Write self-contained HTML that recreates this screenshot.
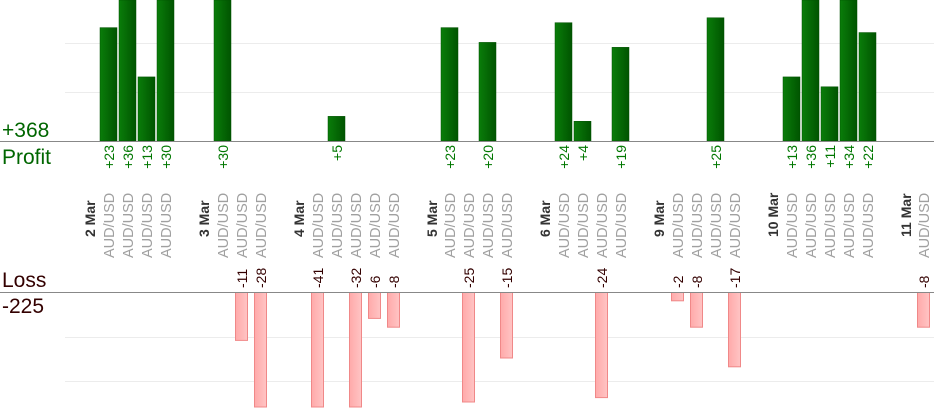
<!DOCTYPE html>
<html><head><meta charset="utf-8"><style>
html,body{margin:0;padding:0;background:#fff;width:934px;height:420px;overflow:hidden}
svg{display:block;font-family:"Liberation Sans",sans-serif}
</style></head><body>
<svg width="934" height="420" viewBox="0 0 934 420" xmlns="http://www.w3.org/2000/svg">
<defs>
<linearGradient id="g" x1="0" x2="1"><stop offset="0" stop-color="#0a7d0a"/><stop offset="1" stop-color="#005400"/></linearGradient>
<linearGradient id="r" x1="0" x2="1"><stop offset="0" stop-color="#ffaaaa"/><stop offset="1" stop-color="#ffc4c4"/></linearGradient>
</defs>
<line x1="65" y1="43.5" x2="934" y2="43.5" stroke="#ececec"/>
<line x1="65" y1="92.5" x2="934" y2="92.5" stroke="#ececec"/>
<line x1="65" y1="337.5" x2="934" y2="337.5" stroke="#ececec"/>
<line x1="65" y1="381.5" x2="934" y2="381.5" stroke="#ececec"/>
<g id="bars"></g>
<line x1="0" y1="141.5" x2="934" y2="141.5" stroke="#888"/>
<line x1="0" y1="292.5" x2="934" y2="292.5" stroke="#888"/>
<text x="2" y="137" font-size="21" fill="#006600">+368</text>
<text x="2" y="164" font-size="21" fill="#006600">Profit</text>
<text x="2" y="287" font-size="21" fill="#330000">Loss</text>
<text x="2" y="313" font-size="21" fill="#330000">-225</text>
<g id="lbl"></g>
</svg>
<script>
var data=[[89,'2 Mar'],[108,23],[127,36],[146,13],[165,30],[203,'3 Mar'],[222,30],[241,-11],[260,-28],[298,'4 Mar'],[317,-41],[336,5],[355,-32],[374,-6],[393,-8],[431,'5 Mar'],[449,23],[468,-25],[487,20],[506,-15],[544,'6 Mar'],[563,24],[582,4],[601,-24],[620,19],[658,'9 Mar'],[677,-2],[696,-8],[715,25],[734,-17],[772,'10 Mar'],[791,13],[810,36],[829,11],[848,34],[867,22],[905,'11 Mar'],[923,-8]];
var ns="http://www.w3.org/2000/svg",B=document.getElementById('bars'),L=document.getElementById('lbl');
function el(p,t,a,tx){var e=document.createElementNS(ns,t);for(var k in a)e.setAttribute(k,a[k]);if(tx!=null)e.textContent=tx;p.appendChild(e);return e;}
function vt(x,y,s,anchor,fill,size,bold){el(L,'text',{x:x,y:y,'font-size':size,fill:fill,'text-anchor':anchor,'font-weight':bold?'bold':'normal',transform:'rotate(-90 '+x+' '+y+')'},s);}
data.forEach(function(d){var x=d[0],v=d[1];
if(typeof v=='string'){vt(x+6,237,v,'start','#333',14,true);return;}
vt(x+6,258,'AUD/USD','start','#a0a0a0',14.5,false);
if(v>0){var h=v*4.93,top=Math.max(0,141-h);el(B,'rect',{x:x-8,y:top,width:17,height:141-top,fill:'url(#g)',stroke:'#005000','stroke-width':0.5});
vt(x+6,145,'+'+v,'end','#007700',14,false);}
else{var h=-v*4.4,bot=Math.min(407,292+h);el(B,'rect',{x:x-6+0.5,y:292.5,width:12,height:bot-292.5,fill:'url(#r)',stroke:'#f08888','stroke-width':1});
vt(x+6,288,''+v,'start','#330000',14,false);}
});
</script>
</body></html>
